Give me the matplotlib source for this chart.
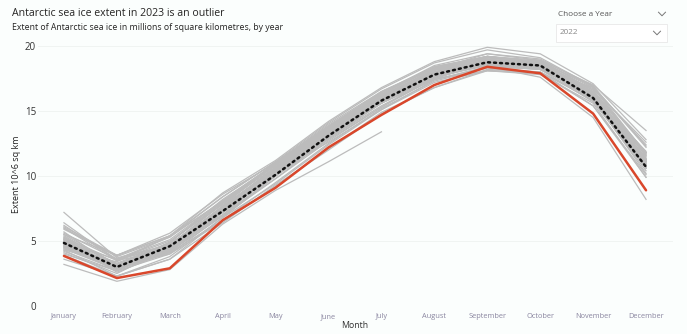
import matplotlib
matplotlib.use("Agg")
import matplotlib.pyplot as plt
from matplotlib.lines import Line2D
from matplotlib.patches import Rectangle

plt.rcParams['font.family'] = ['Open Sans', 'DejaVu Sans']

months = ["January", "February", "March", "April", "May", "June", "July",
          "August", "September", "October", "November", "December"]

past_years = {
    1979: [5.4, 3.1, 4.0, 7.0, 10.4, 13.3, 15.6, 17.4, 18.4, 18.2, 16.3, 11.4],
    1980: [5.7, 2.9, 4.2, 7.4, 10.2, 13.0, 15.9, 17.5, 18.8, 18.3, 16.0, 11.3],
    1981: [4.9, 3.0, 4.6, 7.6, 10.5, 13.4, 16.1, 17.9, 18.9, 18.5, 16.4, 11.8],
    1982: [6.4, 3.5, 4.8, 7.2, 10.3, 13.1, 15.6, 17.6, 18.6, 18.6, 16.7, 12.6],
    1983: [6.2, 3.6, 4.5, 7.0, 10.0, 13.0, 15.7, 17.9, 18.5, 18.2, 16.2, 11.6],
    1984: [5.5, 3.2, 4.1, 6.6, 9.5, 12.5, 15.2, 17.3, 18.3, 18.0, 16.0, 11.2],
    1985: [5.1, 3.3, 4.8, 7.5, 10.5, 13.6, 15.9, 17.8, 18.8, 18.3, 16.2, 11.1],
    1986: [5.0, 3.0, 4.9, 8.2, 10.9, 13.8, 16.2, 18.2, 19.0, 18.6, 16.6, 11.8],
    1987: [7.2, 3.7, 4.7, 7.4, 10.1, 12.9, 15.4, 17.5, 18.7, 18.9, 17.0, 13.5],
    1988: [6.0, 3.5, 4.3, 7.2, 10.6, 13.4, 16.1, 17.7, 18.5, 18.4, 16.4, 11.3],
    1989: [5.1, 3.0, 4.5, 7.3, 10.3, 13.3, 15.8, 17.5, 18.8, 18.4, 15.8, 10.4],
    1990: [4.4, 3.0, 4.6, 7.6, 10.0, 12.8, 15.3, 17.7, 18.6, 18.3, 16.1, 11.2],
    1991: [4.8, 3.1, 4.8, 7.0, 10.4, 13.2, 15.7, 17.9, 18.6, 18.2, 15.7, 10.7],
    1992: [4.7, 3.2, 4.2, 7.2, 10.1, 13.3, 15.8, 17.6, 18.5, 18.3, 16.3, 10.9],
    1993: [4.1, 2.5, 4.5, 7.4, 10.5, 13.2, 15.9, 17.9, 18.7, 18.6, 16.0, 10.6],
    1994: [4.6, 2.9, 4.8, 7.3, 10.1, 13.5, 16.0, 18.1, 19.1, 18.8, 16.4, 10.9],
    1995: [4.7, 3.1, 4.6, 7.6, 10.6, 13.6, 16.2, 17.9, 18.8, 18.5, 16.4, 11.1],
    1996: [4.9, 3.2, 4.9, 8.0, 10.9, 13.5, 15.8, 18.0, 18.9, 18.6, 16.3, 11.3],
    1997: [4.3, 2.3, 3.8, 6.8, 10.0, 12.9, 15.6, 17.8, 18.6, 18.3, 15.9, 10.2],
    1998: [4.5, 2.8, 4.9, 8.0, 10.8, 13.6, 16.3, 18.3, 19.0, 18.6, 16.3, 11.0],
    1999: [4.4, 2.8, 4.6, 7.5, 10.4, 13.4, 16.0, 18.0, 18.9, 18.5, 16.2, 11.3],
    2000: [4.5, 3.0, 4.6, 7.7, 10.6, 13.7, 16.1, 18.2, 19.2, 18.7, 16.4, 11.1],
    2001: [4.3, 3.4, 5.4, 8.0, 10.9, 13.7, 16.2, 18.0, 18.9, 18.6, 16.1, 10.8],
    2002: [4.6, 2.9, 4.3, 7.0, 9.8, 12.7, 15.3, 17.5, 18.1, 18.0, 15.8, 10.6],
    2003: [4.8, 3.6, 5.3, 8.1, 10.8, 13.8, 16.3, 18.4, 19.1, 18.8, 16.8, 11.6],
    2004: [5.2, 3.5, 5.0, 7.8, 10.9, 13.8, 16.5, 18.3, 19.2, 18.8, 16.5, 11.8],
    2005: [5.1, 2.9, 4.4, 7.2, 10.3, 13.4, 16.0, 18.2, 19.1, 18.6, 16.3, 10.9],
    2006: [4.2, 2.7, 4.7, 7.9, 10.7, 13.5, 16.1, 18.2, 19.4, 18.9, 16.2, 10.8],
    2007: [4.6, 2.9, 4.5, 7.7, 11.0, 13.7, 16.4, 18.4, 19.2, 18.7, 16.1, 11.9],
    2008: [5.5, 3.9, 5.6, 8.6, 11.0, 13.8, 16.0, 18.2, 18.5, 18.2, 16.8, 12.4],
    2009: [5.2, 2.9, 4.3, 7.6, 10.7, 13.6, 16.1, 18.0, 19.2, 18.7, 16.2, 11.7],
    2010: [5.3, 3.2, 4.6, 7.9, 11.0, 14.0, 16.5, 18.4, 19.2, 18.9, 16.6, 11.5],
    2011: [5.0, 2.6, 4.2, 7.6, 10.6, 13.5, 16.0, 18.2, 18.9, 18.3, 16.1, 11.0],
    2012: [5.6, 3.6, 5.1, 8.1, 11.0, 13.9, 16.4, 18.5, 19.4, 19.0, 16.9, 11.7],
    2013: [5.9, 3.9, 5.4, 8.4, 11.1, 14.1, 16.7, 18.7, 19.7, 19.1, 16.9, 12.3],
    2014: [6.1, 3.9, 5.4, 8.7, 11.2, 14.2, 16.8, 18.8, 19.9, 19.4, 17.1, 12.8],
    2015: [6.0, 3.8, 5.3, 8.4, 11.1, 13.7, 16.2, 18.2, 18.8, 18.8, 16.9, 12.2],
    2016: [5.3, 2.8, 4.1, 7.3, 10.3, 12.6, 15.1, 17.4, 18.4, 17.6, 14.5, 8.2],
    2017: [3.9, 2.3, 3.6, 6.4, 9.3, 12.0, 14.8, 16.8, 18.1, 17.9, 15.4, 9.9],
    2018: [3.6, 2.3, 3.6, 6.8, 9.4, 12.4, 15.1, 17.2, 18.1, 17.8, 15.6, 9.9],
    2019: [4.0, 2.7, 4.0, 6.5, 9.2, 12.1, 14.9, 16.8, 18.2, 18.0, 15.4, 10.1],
    2020: [4.7, 2.9, 4.3, 7.5, 10.5, 13.2, 15.8, 17.8, 18.8, 18.7, 16.4, 10.6],
    2021: [4.9, 2.8, 4.2, 6.9, 9.8, 12.9, 15.6, 17.9, 18.7, 18.3, 16.0, 10.7],
}
year_2023 = [3.2, 1.9, 2.8, 6.3, 8.9, 11.1, 13.4]
year_2022 = [3.85, 2.15, 2.9, 6.6, 9.1, 12.2, 14.7, 17.0, 18.4, 17.9, 14.8, 8.9]
mean_extent = [4.85, 3.0, 4.6, 7.3, 10.1, 13.1, 15.8, 17.8, 18.75, 18.5, 16.0, 10.7]
y_ticks = [0, 5, 10, 15, 20]

W, H = 687, 334
fig = plt.figure(figsize=(W / 100, H / 100), dpi=100, facecolor="#fbfefd")
ax = fig.add_axes([37.5 / W, (H - 306) / H, 635 / W, 260 / H])
ax.set_facecolor("none")

x = list(range(len(months)))
for yr, vals in past_years.items():
    ax.plot(x, vals, color="#bcbcbc", lw=0.9, zorder=2)
ax.plot(x[:len(year_2023)], year_2023, color="#bcbcbc", lw=0.9, zorder=2)
ax.plot(x, year_2022, color="#d9472b", lw=1.8, zorder=3, solid_capstyle="round")
ax.plot(x, mean_extent, color="#111111", lw=1.8, linestyle=(0, (0.8, 1.6)),
        dash_capstyle="round", zorder=4)

ax.set_xlim(-0.5, len(months) - 0.5)
ax.set_ylim(0, 20)
ax.set_yticks(y_ticks)
ax.set_yticklabels([str(t) for t in y_ticks], fontsize=7, color="#333333")
ax.set_xticks(x)
ax.set_xticklabels(months, fontsize=5.3, color="#8a86a0")
for lbl in ax.get_xticklabels():
    lbl.set_verticalalignment("baseline")
ax.tick_params(axis="both", length=0)
ax.tick_params(axis="y", pad=1)
ax.tick_params(axis="x", pad=8.5)
ax.grid(axis="y", color="#eef3f1", lw=0.6, zorder=0)
for s in ax.spines.values():
    s.set_visible(False)

ax.set_xlabel("Month", fontsize=6.3, color="#333333", labelpad=0.5)
fig.text(17 / W, 1 - 174 / H, "Extent 10^6 sq km", rotation=90, fontsize=6.5,
         color="#222222", ha="center", va="center")

fig.text(12 / W, 1 - 14 / H, "Antarctic sea ice extent in 2023 is an outlier",
         fontsize=7.6, color="#252423", ha="left", va="center")
fig.text(12 / W, 1 - 28 / H,
         "Extent of Antarctic sea ice in millions of square kilometres, by year",
         fontsize=6.3, color="#252423", ha="left", va="center")

# year selector
fig.text(558 / W, 1 - 15 / H, "Choose a Year", fontsize=5.9, color="#555555",
         ha="left", va="center")
fig.add_artist(Rectangle((556 / W, 1 - 42 / H), 111 / W, 18 / H,
                         transform=fig.transFigure, facecolor="white",
                         edgecolor="#e8e8e8", lw=0.6))
fig.text(560 / W, 1 - 33 / H, "2022", fontsize=5.9, color="#888888",
         ha="left", va="center")
for cx, cy in [(662, 14), (657, 33)]:
    fig.add_artist(Line2D([(cx - 3.5) / W, cx / W, (cx + 3.5) / W],
                          [1 - (cy - 1.8) / H, 1 - (cy + 1.8) / H, 1 - (cy - 1.8) / H],
                          transform=fig.transFigure, color="#777777", lw=0.7))

fig.savefig("out.png", dpi=100, facecolor=fig.get_facecolor())
